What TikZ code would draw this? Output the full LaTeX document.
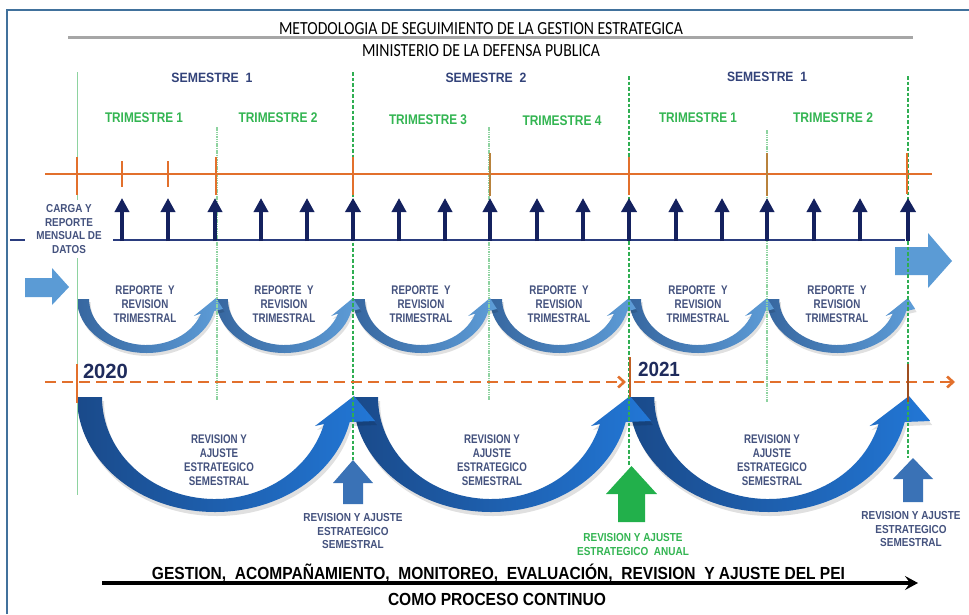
\documentclass[tikz,border=0pt]{standalone}
\usepackage{fontspec}
\usepackage{graphicx}
\setmainfont{Liberation Sans}
\newfontfamily\nb{Liberation Sans}[FakeStretch=0.78]
\newfontfamily\mb{Liberation Sans}[FakeStretch=0.86]
\newfontfamily\carl{Carlito}
\usetikzlibrary{arrows.meta}
\newcommand{\fw}[2]{\resizebox{#1}{\height}{#2}}
\definecolor{framec}{HTML}{41719C}
\definecolor{orng}{HTML}{E2702C}
\definecolor{brn}{HTML}{B8823C}
\definecolor{navy}{HTML}{14215E}
\definecolor{navyline}{HTML}{2A3C7E}
\definecolor{lblue}{HTML}{5B9BD5}
\definecolor{qdark}{HTML}{3767A0}
\definecolor{qlight}{HTML}{5E9DD8}
\definecolor{sdark}{HTML}{1A4A8A}
\definecolor{slight}{HTML}{2277D6}
\definecolor{mblue}{HTML}{3A72B6}
\definecolor{gren}{HTML}{22B04B}
\definecolor{gtxt}{HTML}{33B552}
\definecolor{ltxt}{HTML}{44527E}
\definecolor{semtxt}{HTML}{33437A}
\definecolor{vgreen}{HTML}{2FAE52}
\definecolor{vlight}{HTML}{8ED3A0}
\definecolor{yeartxt}{HTML}{1F2B5C}
\newcommand{\qpath}{(0,0) arc[start angle=180, end angle=12.84, x radius=69, y radius=54] -- (145,10) -- (138,-1) -- (116,17) -- (123.09,14.5) arc[start angle=18.37, end angle=180, x radius=57, y radius=46] -- cycle}
\newcommand{\spath}{(0,0) arc[start angle=180, end angle=12.56, x radius=138, y radius=115] -- (298,24) -- (277,-1) -- (238,29) -- (246.96,27) arc[start angle=15.35, end angle=180, x radius=113, y radius=102] -- cycle}
\newcommand{\qarc}[2]{%
  \fill[black, opacity=0.12, shift={(#1+1.5,302)}, xscale={(#2-#1)/138}] \qpath;
  \shade[left color=qdark, right color=qlight, shift={(#1,299)}, xscale={(#2-#1)/138}] \qpath;}
\newcommand{\sarc}[2]{%
  \fill[black, opacity=0.12, shift={(#1+2,401)}, xscale={(#2-#1)/276}] \spath;
  \shade[left color=sdark, right color=slight, shift={(#1,397)}, xscale={(#2-#1)/276}] \spath;}
\begin{document}
\begin{tikzpicture}[x=1pt,y=-1pt,
  lbl/.style={inner sep=0pt, align=center},
  qtxt/.style={lbl, text=ltxt, font=\nb\bfseries\fontsize{12.5}{14}\selectfont},
  stxt/.style={lbl, text=ltxt, font=\nb\bfseries\fontsize{12.5}{14}\selectfont},
  btxt/.style={lbl, text=ltxt, font=\mb\bfseries\fontsize{11.6}{13.5}\selectfont},
  semh/.style={lbl, text=semtxt, font=\bfseries\fontsize{13.5}{14}\selectfont},
  trih/.style={lbl, text=gtxt, font=\bfseries\fontsize{14}{14}\selectfont},
  navarr/.style={navy, line width=3.5pt, -{Triangle[length=14pt,width=14pt]}},
  semline/.style={vgreen, line width=1.3pt, dash pattern=on 3.5pt off 2pt},
  qline/.style={vlight, line width=1.1pt, dash pattern=on 1.5pt off 0.8pt},
  otick/.style={orng, line width=2.6pt},
  odash/.style={orng, line width=2.6pt, dash pattern=on 11pt off 6pt, -{Straight Barb[length=6pt,width=11pt]}}]
\fill[white] (0,0) rectangle (969,614);
\useasboundingbox (0,0) rectangle (969,614);
% frame
\draw[framec, line width=1.5pt] (7,614) -- (7,10) -- (969,10);
% titles
\node[lbl, text=black] (title) at (481,28.5) {\fw{404pt}{\carl\fontsize{18.5}{18}\selectfont METODOLOGIA DE SEGUIMIENTO DE LA GESTION ESTRATEGICA}};
\draw[gray!70, line width=3pt] (68,37.5) -- (913,37.5);
\node[lbl, text=black] (mdp) at (481,51) {\fw{238pt}{\carl\fontsize{18.5}{18}\selectfont MINISTERIO DE LA DEFENSA PUBLICA}};
% semester / trimester headers
\node[semh] (s1) at (212,78) {\fw{81pt}{SEMESTRE\ \ 1}};
\node[semh] (s2) at (486,78) {\fw{81pt}{SEMESTRE\ \ 2}};
\node[semh] (s3) at (767,77) {\fw{80pt}{SEMESTRE\ \ 1}};
\node[trih] (t1) at (144,118) {\fw{78pt}{TRIMESTRE 1}};
\node[trih] (t2) at (278,118) {\fw{79pt}{TRIMESTRE 2}};
\node[trih] (t3) at (428,119.5) {\fw{78pt}{TRIMESTRE 3}};
\node[trih] (t4) at (562,121) {\fw{79pt}{TRIMESTRE 4}};
\node[trih] (t5) at (698,118) {\fw{78pt}{TRIMESTRE 1}};
\node[trih] (t6) at (833,118) {\fw{80pt}{TRIMESTRE 2}};
% light blue block arrows
\fill[lblue] (25,278) -- (52,278) -- (52,268) -- (69,287) -- (52,305) -- (52,297) -- (25,297) -- cycle;
\fill[lblue] (895,247) -- (928,247) -- (928,233) -- (952,261) -- (928,288) -- (928,275) -- (895,275) -- cycle;
% semester arcs (right to left)
\sarc{629}{908}
\sarc{353}{629}
\sarc{77}{353}
% quarter arcs (right to left)
\qarc{767}{908}
\qarc{629}{767}
\qarc{490}{629}
\qarc{353}{490}
\qarc{216}{353}
\qarc{77}{216}
% green vertical guides
\draw[vlight, line width=1pt] (77,72) -- (77,495);
\draw[qline] (217,127) -- (217,400);
\draw[qline] (489,127) -- (489,400);
\draw[qline] (767,130) -- (767,402);
\draw[semline] (353,72) -- (353,460);
\draw[semline] (629,76) -- (629,466);
\draw[semline] (908,76) -- (908,458);
% orange monthly line
\draw[orng, line width=2.8pt] (45,174) -- (932,174);
\foreach \x in {77,216,353,629} \draw[otick] (\x,157) -- (\x,195);
\foreach \x in {122,168} \draw[otick] (\x,161) -- (\x,187);
\foreach \x in {490,767} \draw[brn, line width=2.6pt] (\x,153) -- (\x,196);
\draw[otick] (907,153) -- (907,194);
% navy monthly arrows
\draw[navyline, line width=2.2pt] (10,240) -- (905,240);
\foreach \x in {122,168,215,261,307,399,445,490,537,583,676,722,767,814,860}
  \draw[navarr] (\x,241) -- (\x,198);
\foreach \x in {353,629,908}
  \draw[navy, line width=4.5pt, -{Triangle[length=14pt,width=15pt]}] (\x,241) -- (\x,198);
% yearly dashed line
\draw[odash] (45,382) -- (626,382);
\draw[odash] (634,382) -- (955,382);
\draw[otick] (77,364) -- (77,403);
\draw[orng!85!black, line width=2.6pt] (630,357) -- (630,397);
\draw[orng!70!black, line width=2.6pt] (908,364) -- (908,402);
\node[lbl, text=yeartxt, font=\bfseries\fontsize{20.5}{20}\selectfont] (y2020) at (105.5,371) {\fw{45pt}{2020}};
\node[lbl, text=yeartxt, font=\bfseries\fontsize{20.5}{20}\selectfont] (y2021) at (659,369.5) {\fw{42pt}{2021}};
% monthly load label
\node[fill=white, inner sep=0pt, minimum width=88pt, minimum height=58pt, align=center, text=ltxt, font=\mb\bfseries\fontsize{11.5}{13.7}\selectfont] (carga) at (69,229) {CARGA Y\\REPORTE\\MENSUAL DE\\DATOS};
% quarterly texts
\foreach \x [count=\i] in {145,284,421,559,698,837}
  \node[qtxt] (q\i) at (\x,304) {REPORTE\ \ Y\\REVISION\\TRIMESTRAL};
% semester texts
\foreach \x [count=\i] in {219,492,772}
  \node[stxt] (sm\i) at (\x,460) {REVISION Y\\AJUSTE\\ESTRATEGICO\\SEMESTRAL};
% bottom up arrows
\fill[mblue] (343,504) -- (343,483) -- (333,483) -- (353,460) -- (373,483) -- (363,483) -- (363,504) -- cycle;
\fill[gren] (618,522) -- (618,494) -- (606,494) -- (631.5,466) -- (657,494) -- (645,494) -- (645,522) -- cycle;
\fill[mblue] (903,502) -- (903,479) -- (893,479) -- (913,458) -- (933,479) -- (923,479) -- (923,502) -- cycle;
\node[btxt] (lab1) at (353,531) {REVISION Y AJUSTE\\ESTRATEGICO\\SEMESTRAL};
\node[btxt, text=gtxt] (lab2) at (633,544.5) {REVISION Y AJUSTE\\ESTRATEGICO\ \ ANUAL};
\node[btxt] (lab3) at (911,529) {REVISION Y AJUSTE\\ESTRATEGICO\\SEMESTRAL};
% bottom continuous process arrow
\node[lbl, text=black, font=\mb\bfseries\fontsize{17.5}{17}\selectfont] (gest) at (498.5,573) {\fw{693pt}{GESTION,\ \ ACOMPAÑAMIENTO,\ \ MONITOREO,\ \ EVALUACIÓN,\ \ REVISION\ \ Y AJUSTE DEL PEI}};
\coordinate (pstart) at (102,583);
\coordinate (pend) at (918,583);
\draw[black, line width=3.2pt, -{Stealth[length=13pt,width=14pt,inset=5pt]}] (pstart) -- (pend);
\node[lbl, text=black, font=\mb\bfseries\fontsize{17.5}{17}\selectfont] (como) at (497,599) {\fw{218pt}{COMO PROCESO CONTINUO}};
\end{tikzpicture}
\end{document}
